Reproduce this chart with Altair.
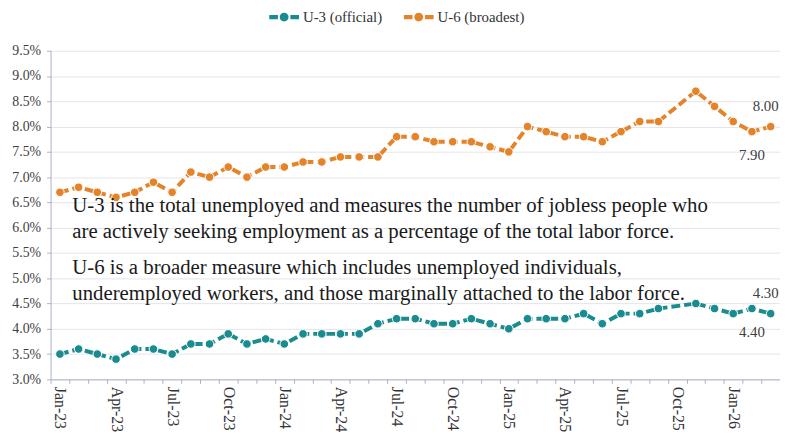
import altair as alt
import pandas as pd

months = ["Jan-23", "Feb-23", "Mar-23", "Apr-23", "May-23", "Jun-23", "Jul-23", "Aug-23", "Sep-23", "Oct-23", "Nov-23", "Dec-23",
          "Jan-24", "Feb-24", "Mar-24", "Apr-24", "May-24", "Jun-24", "Jul-24", "Aug-24", "Sep-24", "Oct-24", "Nov-24", "Dec-24",
          "Jan-25", "Feb-25", "Mar-25", "Apr-25", "May-25", "Jun-25", "Jul-25", "Aug-25", "Sep-25", "Oct-25", "Nov-25", "Dec-25",
          "Jan-26", "Feb-26", "Mar-26"]

u3 = [3.5, 3.6, 3.5, 3.4, 3.6, 3.6, 3.5, 3.7, 3.7, 3.9, 3.7, 3.8,
      3.7, 3.9, 3.9, 3.9, 3.9, 4.1, 4.2, 4.2, 4.1, 4.1, 4.2, 4.1,
      4.0, 4.2, 4.2, 4.2, 4.3, 4.1, 4.3, 4.3, 4.4, None, 4.5, 4.4,
      4.3, 4.4, 4.3]

u6 = [6.7, 6.8, 6.7, 6.6, 6.7, 6.9, 6.7, 7.1, 7.0, 7.2, 7.0, 7.2,
      7.2, 7.3, 7.3, 7.4, 7.4, 7.4, 7.8, 7.8, 7.7, 7.7, 7.7, 7.6,
      7.5, 8.0, 7.9, 7.8, 7.8, 7.7, 7.9, 8.1, 8.1, None, 8.7, 8.4,
      8.1, 7.9, 8.0]

series_names = ["U-3 (official)", "U-6 (broadest)"]
series_colors = ["#1a8b8e", "#e3842a"]

note_p1 = ["U-3 is the total unemployed and measures the number of jobless people who",
           "are actively seeking employment as a percentage of the total labor force."]
note_p2 = ["U-6 is a broader measure which includes unemployed individuals,",
           "underemployed workers, and those marginally attached to the labor force."]

y_ticks = [3.0, 3.5, 4.0, 4.5, 5.0, 5.5, 6.0, 6.5, 7.0, 7.5, 8.0, 8.5, 9.0, 9.5]

rows = []
for name, vals in zip(series_names, [u3, u6]):
    for i, (m, v) in enumerate(zip(months, vals)):
        if v is not None:
            rows.append({"month": m, "series": name, "value": v, "idx": i})
df = pd.DataFrame(rows)
df["label"] = df["value"].map(lambda v: f"{v:.2f}")

FONT = "Liberation Serif"
last_idx = len(months) - 1

x_enc = alt.X("month:O", bandPosition=0.5,
              scale=alt.Scale(type="band", domain=months, paddingInner=0, paddingOuter=0),
              axis=alt.Axis(title=None, labelAngle=90, tickBand="extent", tickSize=4,
                            labelPadding=3, labelFontSize=16, labelFont=FONT, labelColor="#333333",
                            labelExpr="indexof(['Jan','Apr','Jul','Oct'], substring(datum.value,0,3)) >= 0 ? datum.value : ''",
                            domainColor="#aab2c4", tickColor="#aab2c4", grid=False, labelOverlap=False))
y_enc = alt.Y("value:Q", scale=alt.Scale(domain=[3.0, 9.5], nice=False, zero=False),
              axis=alt.Axis(title=None, values=y_ticks, labelExpr="format(datum.value, '.1f') + '%'",
                            labelFontSize=14, labelFont=FONT, labelColor="#404040", labelPadding=6,
                            tickSize=4, domainColor="#aab2c4", tickColor="#aab2c4", labelOverlap=False,
                            gridColor="#e4e4ec", gridWidth=1))

legend_path = ("M-1,-0.15H-0.42V0.15H-1Z M0.42,-0.15H1V0.15H0.42Z "
               "M-0.3,0A0.3,0.3 0 1 0 0.3,0A0.3,0.3 0 1 0 -0.3,0Z")
color_enc = alt.Color("series:N", scale=alt.Scale(domain=series_names, range=series_colors),
                      legend=alt.Legend(title=None, orient="none", direction="horizontal",
                                        legendX=221, legendY=-49, symbolType=legend_path,
                                        symbolSize=900, symbolStrokeWidth=0, labelFont=FONT,
                                        labelFontSize=15, labelColor="#333333", columnPadding=21,
                                        labelOffset=4))

base = alt.Chart(df).encode(x=x_enc, y=y_enc, color=color_enc)
lines = base.mark_line(strokeWidth=4, strokeDash=[9, 4])
points = base.mark_circle(size=75, opacity=1, stroke="white", strokeWidth=1)

above = base.transform_filter(alt.datum.idx == last_idx).mark_text(
    font=FONT, fontSize=15, dy=-21, dx=-5).encode(text="label:N", color=alt.value("#404040"))
below = base.transform_filter(alt.datum.idx == last_idx - 1).mark_text(
    font=FONT, fontSize=15, dy=24).encode(text="label:N", color=alt.value("#404040"))

one = pd.DataFrame({"k": [0]})
note1 = alt.Chart(one).mark_text(align="left", baseline="alphabetic", font=FONT, fontSize=21,
                                 lineHeight=26, color="#1a1a1a", text=note_p1).encode(
    x=alt.value(22), y=alt.value(163))
note2 = alt.Chart(one).mark_text(align="left", baseline="alphabetic", font=FONT, fontSize=21,
                                 lineHeight=26, color="#1a1a1a", text=note_p2).encode(
    x=alt.value(22), y=alt.value(226))

chart = alt.layer(lines, points, above, below, note1, note2).properties(
    width=737, height=332,
    autosize=alt.AutoSizeParams(type="none"),
    padding={"left": 43, "top": 41, "right": 0, "bottom": 52},
).configure_view(stroke=None)

chart.save("out.html", embed_options={"renderer": "svg", "actions": False})
